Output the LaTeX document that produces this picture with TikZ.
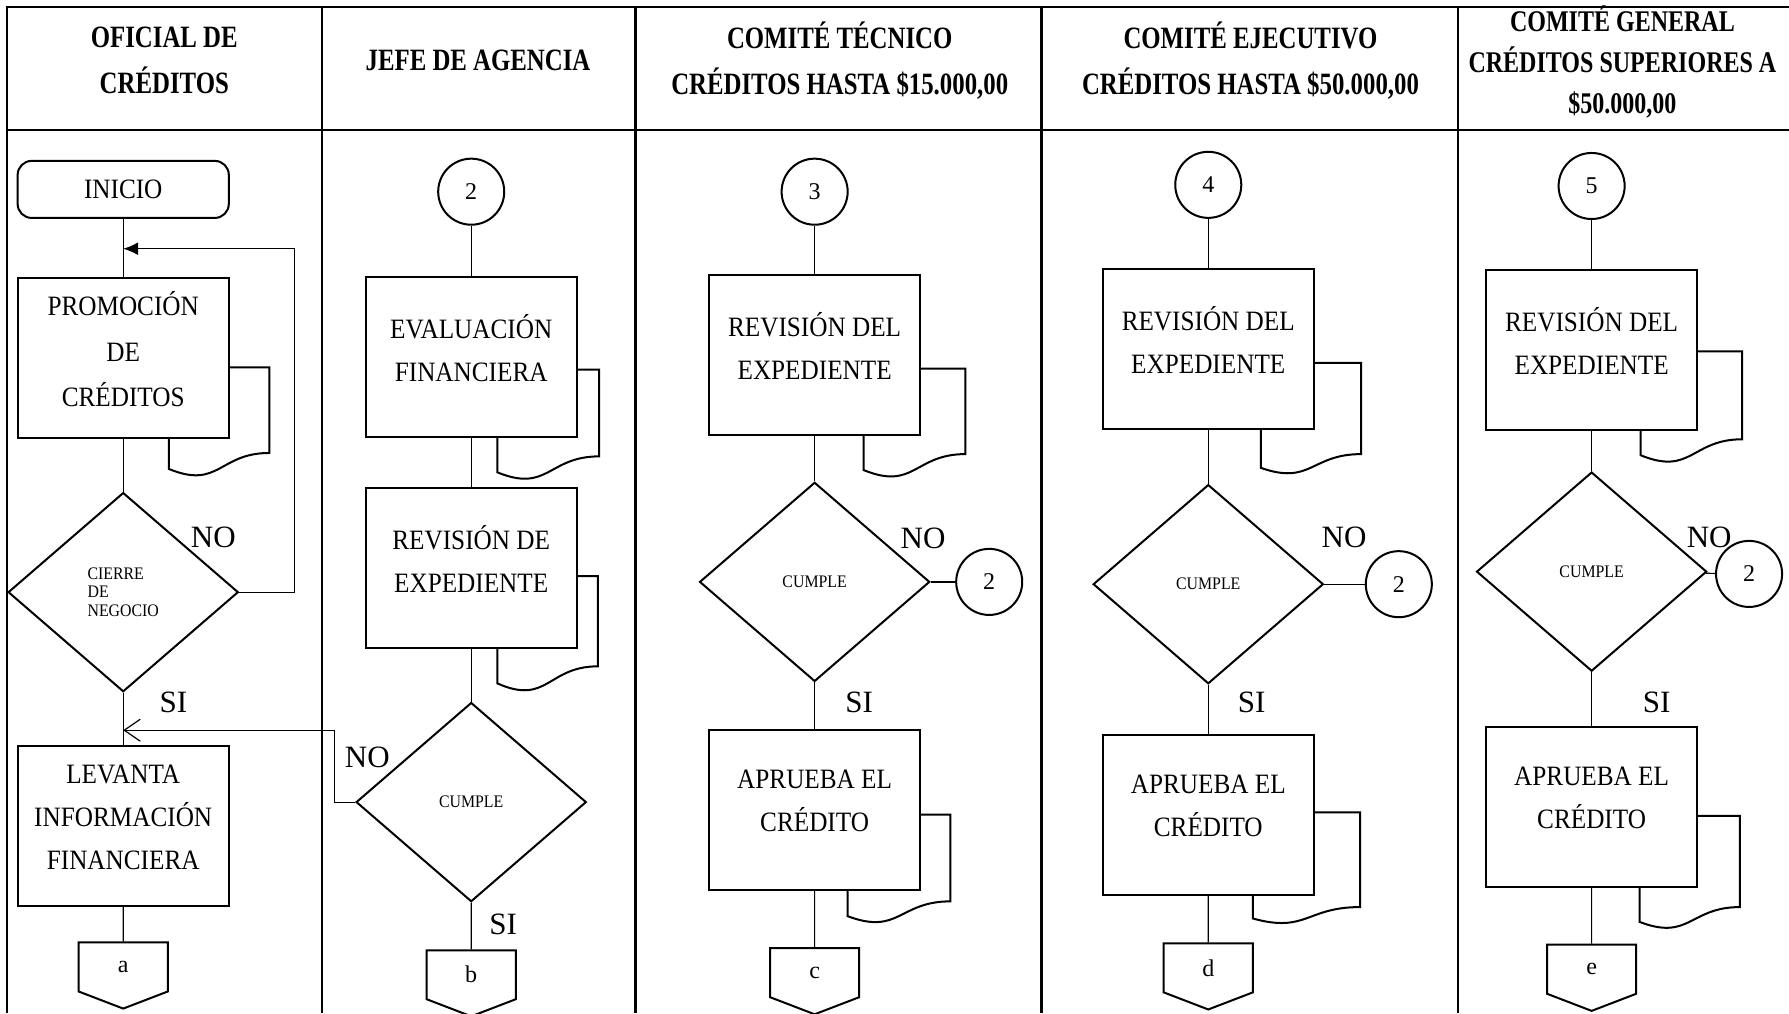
\documentclass[tikz,border=0pt]{standalone}
\usepackage{fontspec}
\setmainfont{Liberation Serif}
\newfontfamily\boxfont{Liberation Serif}[FakeStretch=0.9]
\newfontfamily\headfont{Liberation Serif}[FakeStretch=0.8]
\usepackage{tikz}
\usetikzlibrary{shapes.geometric, shapes.symbols, arrows.meta}
\tikzstyle{process} = [rectangle, minimum width=105.5pt, minimum height=79.8pt, text depth=9pt, text centered, align=center, draw=black, line width=1pt, fill=white, font=\boxfont\fontsize{14}{21.5}\selectfont]
\tikzstyle{startbox} = [rectangle, rounded corners=7pt, minimum width=105.5pt, minimum height=28.5pt, text centered, draw=black, line width=1pt, fill=white, font=\boxfont\fontsize{14}{16}\selectfont]
\tikzstyle{decision} = [diamond, minimum width=115pt, minimum height=99.5pt, inner sep=0pt, draw=black, line width=1pt, fill=white, font=\boxfont\fontsize{8.8}{9.1}\selectfont]
\tikzstyle{connector} = [circle, minimum size=33pt, inner sep=0pt, draw=black, line width=1pt, font=\fontsize{12}{14}\selectfont]
\tikzstyle{offpage} = [signal, signal to=south, signal from=nowhere, signal pointer angle=138, minimum width=44.5pt, minimum height=25.6pt, inner sep=0pt, draw=black, line width=1pt, font=\fontsize{12}{14}\selectfont]
\tikzstyle{head} = [align=center, font=\headfont\bfseries\fontsize{15.5}{22.8}\selectfont]
\tikzstyle{answer} = [font=\fontsize{15.5}{18}\selectfont]
\tikzstyle{flow} = [line width=0.6pt]
\tikzstyle{docline} = [line width=1pt]
\tikzstyle{grid} = [line width=1.2pt]
% document outline peeking out behind a box
\newcommand{\docshadow}[6]{%
  \draw[docline] (#1.east |- 0,#3) -- (#4,#3) -- (#4,#5)
    .. controls ({(#2+#4)/2},#5) and ({(#2+#4)/2},{#5+2.3*(#6-#5)}) .. (#2,#6)
    -- (#2,0 |- #1.south);
}
\begin{document}
\begin{tikzpicture}[x=0.57pt, y=-0.57pt]
	\useasboundingbox (0,0) rectangle (1568,888);
	% table
	\draw[grid] (1568,6) -- (6,6) -- (6,888);
	\draw[grid] (6,114) -- (1568,114);
	\foreach \x in {282,557,913,1278}
		\draw[grid] (\x,6) -- (\x,888);
	\node (h1) [head] at (144,53) {OFICIAL DE\\CRÉDITOS};
	\node (h2) [head] at (419,53) {JEFE DE AGENCIA};
	\node (h3) [head] at (736,53) {COMITÉ TÉCNICO\\CRÉDITOS HASTA \$15.000,00};
	\node (h4) [head] at (1096,53) {COMITÉ EJECUTIVO\\CRÉDITOS HASTA \$50.000,00};
	\node (h5) [head, font=\headfont\bfseries\fontsize{15}{20.5}\selectfont] at (1422,54) {COMITÉ GENERAL\\CRÉDITOS SUPERIORES A\\\$50.000,00};

	% oficial de creditos
	\node (ini) [startbox] at (108,166) {INICIO};
	\node (prom) [process, font=\boxfont\fontsize{14}{22.8}\selectfont] at (108,314) {PROMOCIÓN\\DE\\CRÉDITOS};
	\node (cierre) [decision, align=left] at (108,519) {CIERRE\\DE\\NEGOCIO};
	\node (lev) [process] at (108,724) {LEVANTA\\INFORMACIÓN\\FINANCIERA};
	\node (a) [offpage, anchor=north] at (108,825) {a};
	\node (no1) [answer] at (187,471) {NO};
	\node (si1) [answer] at (152,616) {SI};
	\coordinate (back1) at (108,218);
	\coordinate (turn1) at (258,218);

	% jefe de agencia
	\node (c2) [connector] at (413,168) {2};
	\node (eval) [process] at (413,313) {EVALUACIÓN\\FINANCIERA};
	\node (rev2) [process] at (413,498) {REVISIÓN DE\\EXPEDIENTE};
	\node (cum2) [decision] at (413,703) {CUMPLE};
	\node (b) [offpage, anchor=north] at (413,832) {b};
	\node (no2) [answer] at (322,664) {NO};
	\node (si2) [answer] at (441,810) {SI};
	\coordinate (back2) at (108,640);
	\coordinate (turn2) at (293,640);

	% comite tecnico
	\node (c3) [connector] at (714,168) {3};
	\node (rev3) [process] at (714,311) {REVISIÓN DEL\\EXPEDIENTE};
	\node (cum3) [decision] at (714,510) {CUMPLE};
	\node (n3) [connector] at (867,510) {2};
	\node (apr3) [process] at (714,710) {APRUEBA EL\\CRÉDITO};
	\node (c) [offpage, anchor=north] at (714,830) {c};
	\node (no3) [answer] at (809,472) {NO};
	\node (si3) [answer] at (753,616) {SI};

	% comite ejecutivo
	\node (c4) [connector] at (1059,162) {4};
	\node (rev4) [process] at (1059,306) {REVISIÓN DEL\\EXPEDIENTE};
	\node (cum4) [decision] at (1059,512) {CUMPLE};
	\node (n4) [connector] at (1226,512) {2};
	\node (apr4) [process] at (1059,714) {APRUEBA EL\\CRÉDITO};
	\node (d) [offpage, anchor=north] at (1059,826) {d};
	\node (no4) [answer] at (1178,471) {NO};
	\node (si4) [answer] at (1097,616) {SI};

	% comite general
	\node (c5) [connector] at (1395,163) {5};
	\node (rev5) [process] at (1395,307) {REVISIÓN DEL\\EXPEDIENTE};
	\node (cum5) [decision] at (1395,501) {CUMPLE};
	\node (n5) [connector] at (1533,503) {2};
	\node (apr5) [process] at (1395,707) {APRUEBA EL\\CRÉDITO};
	\node (e) [offpage, anchor=north] at (1395,827) {e};
	\node (no5) [answer] at (1498,471) {NO};
	\node (si5) [answer] at (1452,616) {SI};

	% documents
	\docshadow{prom}{148}{322}{236}{397}{411}
	\docshadow{eval}{436}{324}{525}{400}{414}
	\docshadow{rev2}{436}{505}{524}{584}{599}
	\docshadow{rev3}{757}{323}{846}{398}{412}
	\docshadow{apr3}{743}{714}{833}{790}{803}
	\docshadow{rev4}{1105}{318}{1193}{398}{410}
	\docshadow{apr4}{1098}{712}{1192}{795}{805}
	\docshadow{rev5}{1438}{308}{1527}{385}{399}
	\docshadow{apr5}{1437}{715}{1525}{795}{808}

	% flow
	\draw[flow] (ini) -- (prom);
	\draw[flow] (prom) -- (cierre);
	\draw[flow] (cierre) -- (lev);
	\draw[flow] (lev) -- (a);
	\draw[flow, -{Latex[length=7.5pt,width=6.5pt]}] (cierre.east) -| (turn1) -- (back1);
	\draw[flow] (c2) -- (eval);
	\draw[flow] (eval) -- (rev2);
	\draw[flow] (rev2) -- (cum2);
	\draw[flow] (cum2) -- (b);
	\draw[flow, -{Straight Barb[length=8pt,width=11pt]}] (cum2.west) -| (turn2) -- (back2);
	\draw[flow] (c3) -- (rev3);
	\draw[flow] (rev3) -- (cum3);
	\draw[flow] (cum3) -- (n3);
	\draw[flow] (cum3) -- (apr3);
	\draw[flow] (apr3) -- (c);
	\draw[flow] (c4) -- (rev4);
	\draw[flow] (rev4) -- (cum4);
	\draw[flow] (cum4) -- (n4);
	\draw[flow] (cum4) -- (apr4);
	\draw[flow] (apr4) -- (d);
	\draw[flow] (c5) -- (rev5);
	\draw[flow] (rev5) -- (cum5);
	\draw[flow] (cum5) -- (n5);
	\draw[flow] (cum5) -- (apr5);
	\draw[flow] (apr5) -- (e);
\end{tikzpicture}
\end{document}
